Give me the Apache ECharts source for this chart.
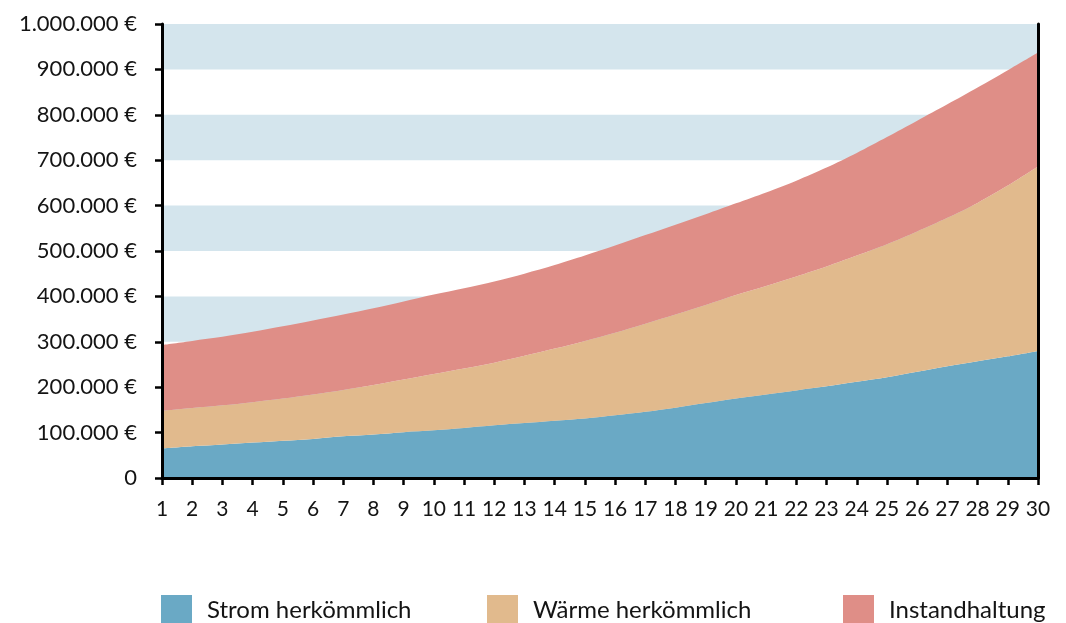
<!DOCTYPE html>
<html>
<head>
<meta charset="utf-8">
<title>Kostenentwicklung über 30 Jahre</title>
<script src="https://cdn.jsdelivr.net/npm/echarts@6/dist/echarts.min.js"></script>
<style>
  html, body { margin: 0; padding: 0; background: #ffffff; }
  #chart { width: 1066px; height: 623px; }
</style>
</head>
<body>
<div id="chart"></div>
<script>
// Years on the horizontal axis
const years = ['1','2','3','4','5','6','7','8','9','10','11','12','13','14','15',
               '16','17','18','19','20','21','22','23','24','25','26','27','28','29','30'];

// Cumulative costs in € per category (stacked)
const stromHerkoemmlich = [65000, 70000, 74000, 78000, 82000, 86000, 92000, 96000, 101000, 105000,
                           110000, 116000, 121000, 126000, 131000, 138000, 146000, 155000, 165000, 175000,
                           184000, 193000, 202000, 212000, 222000, 234000, 246000, 257000, 268000, 280000];
const waermeHerkoemmlich = [83000, 84000, 86000, 89000, 93000, 98000, 102000, 109000, 116000, 124000,
                            131000, 138000, 148000, 159000, 171000, 182000, 194000, 205000, 216000, 228000,
                            239000, 251000, 264000, 278000, 293000, 309000, 327000, 349000, 376000, 406000];
const instandhaltung = [145000, 148000, 151000, 155000, 159000, 163000, 166000, 169000, 172000, 175000,
                        177000, 179000, 181000, 184000, 188000, 192000, 195000, 198000, 200000, 202000,
                        206000, 211000, 218000, 226000, 236000, 244000, 250000, 254000, 254000, 251000];

const seriesNames = ['Strom herkömmlich', 'Wärme herkömmlich', 'Instandhaltung'];
const seriesColors = ['#6AA9C5', '#E1BA8D', '#DF8E87'];
const bandColors = ['rgba(255,255,255,0)', '#D4E5ED'];

const FONT = 'Lato, "Open Sans", sans-serif';
const TEXT = '#141414';
const Y_MIN = 0, Y_MAX = 1000000, Y_STEP = 100000;

function euro(v) {
  if (v === 0) return '0';
  return String(v).replace(/\B(?=(\d{3})+(?!\d))/g, '.') + ' €';
}

function areaSeries(name, data, color) {
  return {
    name: name,
    type: 'line',
    stack: 'kosten',
    data: data,
    smooth: 0.3,
    symbol: 'none',
    lineStyle: { width: 0, color: color },
    itemStyle: { color: color },
    areaStyle: { color: color, opacity: 1 },
    emphasis: { disabled: true }
  };
}

function legendAt(name, left) {
  return {
    data: [name],
    left: left,
    top: 590,
    icon: 'rect',
    itemWidth: 31,
    itemHeight: 31,
    selectedMode: false,
    textStyle: { fontFamily: FONT, fontSize: 24, color: TEXT, padding: [0, 0, 0, 10] }
  };
}

const hidden = { show: false };

const chart = echarts.init(document.getElementById('chart'), null, { renderer: 'canvas' });

chart.setOption({
  animation: false,
  backgroundColor: '#ffffff',
  color: seriesColors,
  grid: { left: 162, right: 28, top: 24, bottom: 145, containLabel: false },
  legend: [
    legendAt(seriesNames[0], 156),
    legendAt(seriesNames[1], 482),
    legendAt(seriesNames[2], 838)
  ],
  xAxis: {
    type: 'category',
    data: years,
    boundaryGap: false,
    z: 5,
    axisLine: { show: true, lineStyle: { color: '#000', width: 3 } },
    axisTick: { show: true, length: 7, lineStyle: { color: '#000', width: 2.5 } },
    axisLabel: { fontFamily: FONT, fontSize: 21, color: TEXT, margin: 21, interval: 0 },
    splitLine: hidden
  },
  yAxis: [
    // background bands, drawn beneath the areas
    {
      type: 'value',
      min: Y_MIN, max: Y_MAX, interval: Y_STEP,
      axisLine: hidden, axisTick: hidden, axisLabel: hidden, splitLine: hidden,
      splitArea: { show: true, areaStyle: { color: bandColors } }
    },
    // left value axis with labels, drawn above the areas
    {
      type: 'value',
      position: 'left',
      min: Y_MIN, max: Y_MAX, interval: Y_STEP,
      z: 5,
      axisLine: { show: true, lineStyle: { color: '#000', width: 3 } },
      axisTick: { show: true, length: 7, lineStyle: { color: '#000', width: 2.5 } },
      axisLabel: { fontFamily: FONT, fontSize: 22, color: TEXT, margin: 25, formatter: euro },
      splitLine: hidden, splitArea: hidden
    },
    // closing line on the right
    {
      type: 'value',
      position: 'right',
      min: Y_MIN, max: Y_MAX, interval: Y_STEP,
      z: 5,
      axisLine: { show: true, lineStyle: { color: '#000', width: 3 } },
      axisTick: hidden, axisLabel: hidden, splitLine: hidden, splitArea: hidden
    }
  ],
  series: [
    areaSeries(seriesNames[0], stromHerkoemmlich, seriesColors[0]),
    areaSeries(seriesNames[1], waermeHerkoemmlich, seriesColors[1]),
    areaSeries(seriesNames[2], instandhaltung, seriesColors[2])
  ]
});
</script>
</body>
</html>
